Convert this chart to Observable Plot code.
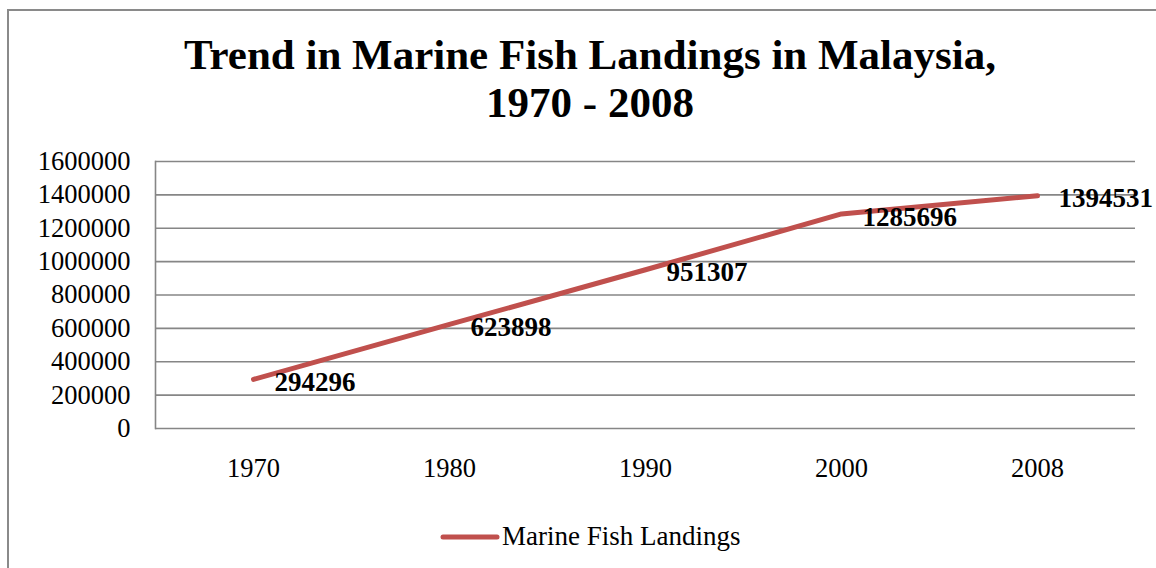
<!DOCTYPE html>
<html>
<head>
<meta charset="utf-8">
<script src="https://cdn.jsdelivr.net/npm/d3@7"></script>
<script src="https://cdn.jsdelivr.net/npm/@observablehq/plot@0.6"></script>
<style>
  html, body { margin: 0; padding: 0; background: #fff; }
  body {
    width: 1156px; height: 568px; overflow: hidden; position: relative;
    font-family: "Liberation Serif", "Times New Roman", serif; color: #000;
  }
  #chart { position: absolute; left: 0; top: 0; }
  #frame {
    position: absolute; left: 7px; top: 9px; width: 1220px; height: 640px;
    border: 2px solid #8a8a8a; box-sizing: border-box; pointer-events: none;
  }
  #title {
    position: absolute; left: 0; top: 31px; width: 1180px;
    text-align: center; font-weight: bold; font-size: 43px; line-height: 48px;
  }
  #legend {
    position: absolute; left: 440px; top: 521px;
    display: flex; align-items: center; font-size: 27px;
  }
  #legend svg { display: block; margin-right: 2px; }
</style>
</head>
<body>
<div id="chart"></div>
<div id="frame"></div>
<div id="title"></div>
<div id="legend"></div>
<script>
// Marine fish landings in Malaysia (tonnes)
const years = ["1970", "1980", "1990", "2000", "2008"];
const landings = [294296, 623898, 951307, 1285696, 1394531];
const yTicks = [0, 200000, 400000, 600000, 800000, 1000000, 1200000, 1400000, 1600000];
const seriesName = "Marine Fish Landings";
const titleLines = ["Trend in Marine Fish Landings in Malaysia,", "1970 - 2008"];

const lineColor = "#C0504D";
const gridColor = "#868686";

const data = years.map((year, i) => ({year, value: landings[i]}));

const chart = Plot.plot({
  width: 1156,
  height: 500,
  marginLeft: 155,
  marginRight: 21,
  marginTop: 161,
  marginBottom: 72,
  style: {fontFamily: "'Liberation Serif', 'Times New Roman', serif", fontSize: "26px", color: "#000", background: "transparent"},
  x: {type: "point", domain: years, padding: 0.5, label: null},
  y: {domain: [0, 1600000], label: null},
  marks: [
    Plot.gridY(yTicks, {stroke: gridColor, strokeOpacity: 1, strokeWidth: 1.6}),
    Plot.frame({anchor: "left", stroke: gridColor, strokeWidth: 1.6}),
    Plot.axisY(yTicks, {tickSize: 0, tickPadding: 25, tickFormat: d => String(d), fontSize: 26.5, label: null}),
    Plot.axisX({tickSize: 0, tickPadding: 30, fontSize: 26.5, label: null}),
    Plot.line(data, {x: "year", y: "value", stroke: lineColor, strokeWidth: 5, strokeLinecap: "round", strokeLinejoin: "round"}),
    Plot.text(data, {x: "year", y: "value", text: d => String(d.value), textAnchor: "start", dx: 21, dy: 3, fontWeight: "bold", fontSize: 27, fill: "#000"})
  ]
});
document.getElementById("chart").appendChild(chart);

const title = document.getElementById("title");
titleLines.forEach((t, i) => {
  if (i) title.appendChild(document.createElement("br"));
  title.appendChild(document.createTextNode(t));
});

const legend = document.getElementById("legend");
legend.innerHTML = `<svg width="60" height="10"><line x1="3" x2="57" y1="5" y2="5" stroke="${lineColor}" stroke-width="5" stroke-linecap="round"/></svg>`;
const span = document.createElement("span");
span.textContent = seriesName;
legend.appendChild(span);
</script>
</body>
</html>
